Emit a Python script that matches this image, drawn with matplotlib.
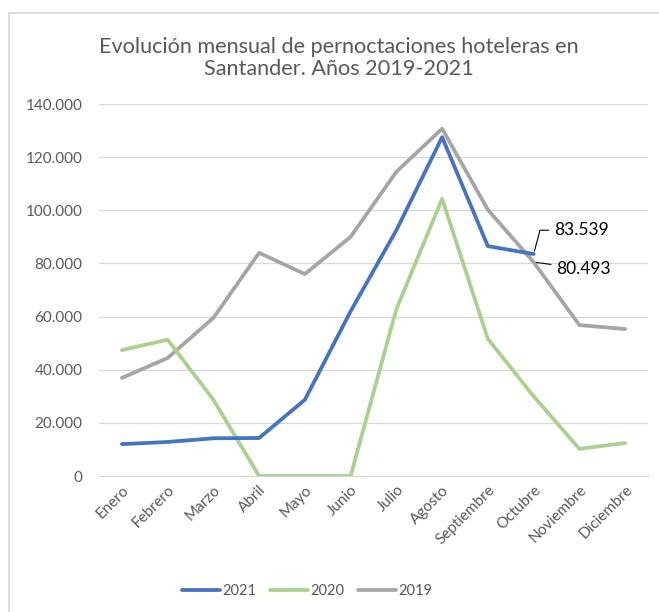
import numpy as np
import matplotlib.pyplot as plt
from matplotlib.patches import Rectangle

# mesi e pernottamenti
meses = ["Enero", "Febrero", "Marzo", "Abril", "Mayo", "Junio", "Julio",
         "Agosto", "Septiembre", "Octubre", "Noviembre", "Diciembre"]
y2021 = [12000, 12800, 14200, 14300, 28700, 62000, 92500, 127500, 86500, 83539]
y2020 = [47400, 51300, 28700, 0, 0, 0, 62800, 104300, 51600, 30000, 10200, 12400]
y2019 = [36900, 44400, 59500, 84000, 76000, 90000, 114500, 130700, 100200, 80493, 56800, 55300]
yticks = [0, 20000, 40000, 60000, 80000, 100000, 120000, 140000]

plt.rcParams['font.family'] = ['Lato', 'DejaVu Sans']
grigio = '#595959'

fig = plt.figure(figsize=(6.59, 6.12), dpi=100)
fig.patches.append(Rectangle((9/659, -0.01), 1.0, 1 - 13/612 + 0.01, transform=fig.transFigure,
                             fill=False, edgecolor='#D9D9D9', linewidth=1.2))

ax = fig.add_axes([99/659, 1 - 476/612, 549/659, 372/612])
x = np.arange(len(meses))
ax.plot(x[:len(y2021)], y2021, color='#4472C4', lw=2.7, label='2021', solid_capstyle='round', zorder=4)
ax.plot(x, y2020, color='#A9D18E', lw=2.7, label='2020', solid_capstyle='round', zorder=3)
ax.plot(x, y2019, color='#A5A5A5', lw=2.7, label='2019', solid_capstyle='round', zorder=2)

ax.set_xlim(-0.5, len(meses) - 0.5)
ax.set_ylim(0, 140000)
ax.set_yticks(yticks)
ax.set_yticklabels([f"{v:,}".replace(",", ".") for v in yticks], color=grigio, fontsize=11)
ax.set_xticks(x)
ax.set_xticklabels(meses, rotation=45, ha='right', va='top', rotation_mode='anchor',
                   color=grigio, fontsize=11)
ax.tick_params(axis='y', length=0, pad=12)
ax.tick_params(axis='x', length=0, pad=5)
ax.grid(axis='y', color='#D9D9D9', lw=0.9)
ax.set_axisbelow(True)
for s in ['top', 'right', 'left']:
    ax.spines[s].set_visible(False)
ax.spines['bottom'].set_color('#D9D9D9')

# etichette dei dati di ottobre
ax.annotate("83.539", xy=(9, y2021[9]), xytext=(9.45, 92500), fontsize=12.5, color='black',
            va='center', ha='left',
            arrowprops=dict(arrowstyle='-', color='black', lw=0.8,
                            connectionstyle='angle,angleA=0,angleB=75,rad=0'))
ax.annotate("80.493", xy=(9, y2019[9]), xytext=(9.5, 78000), fontsize=12.5, color='black',
            va='center', ha='left',
            arrowprops=dict(arrowstyle='-', color='black', lw=0.8))

fig.text(339/659, 1 - 58/612, "Evolución mensual de pernoctaciones hoteleras en\nSantander. Años 2019-2021",
         ha='center', va='center', fontsize=15.6, color=grigio, linespacing=1.1)

fig.legend(loc='center', bbox_to_anchor=(307/659, 1 - 591/612), ncol=3, frameon=False,
           fontsize=10.5, handlelength=2.6, handletextpad=0.2, columnspacing=0.9,
           labelcolor=grigio)

fig.savefig('out.png', dpi=100)
